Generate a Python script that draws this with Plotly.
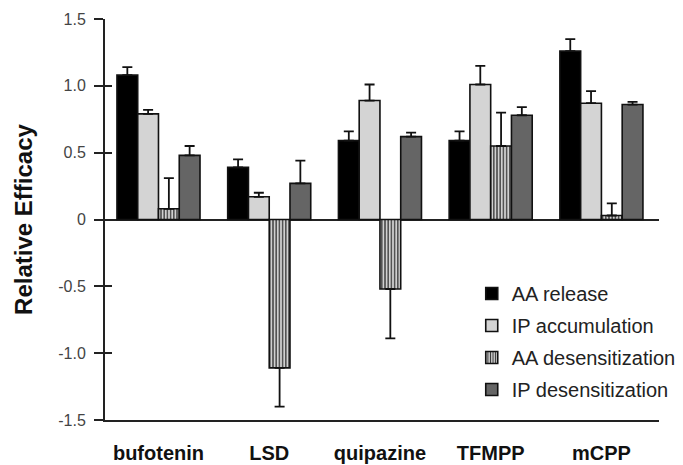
import plotly.graph_objects as go

categories = ["bufotenin", "LSD", "quipazine", "TFMPP", "mCPP"]
series_names = ["AA release", "IP accumulation", "AA desensitization", "IP desensitization"]

aa_release = [1.08, 0.39, 0.59, 0.59, 1.26]
aa_release_err = [0.06, 0.06, 0.07, 0.07, 0.09]

ip_accum = [0.79, 0.17, 0.89, 1.01, 0.87]
ip_accum_err = [0.03, 0.03, 0.12, 0.14, 0.09]

aa_desens = [0.08, -1.11, -0.52, 0.55, 0.03]
aa_desens_err = [0.23, 0.29, 0.37, 0.25, 0.09]

ip_desens = [0.48, 0.27, 0.62, 0.78, 0.86]
ip_desens_err = [0.07, 0.17, 0.03, 0.06, 0.02]

y_ticks = [-1.5, -1.0, -0.5, 0, 0.5, 1.0, 1.5]
y_tick_text = ["-1.5", "-1.0", "-0.5", "0", "0.5", "1.0", "1.5"]

fig = go.Figure()

def err(values, errs):
    up = [e if v >= 0 else 0 for v, e in zip(values, errs)]
    down = [e if v < 0 else 0 for v, e in zip(values, errs)]
    return dict(type="data", symmetric=False, array=up, arrayminus=down,
                color="#111", thickness=1.8, width=5)

styles = [
    dict(color="#000000"),
    dict(color="#d4d4d4"),
    dict(color="#bdbdbd", pattern=dict(shape="|", bgcolor="#d0d0d0", fgcolor="#333333",
                                       size=3.2, solidity=0.4, fillmode="replace")),
    dict(color="#656565"),
]
data = [(aa_release, aa_release_err), (ip_accum, ip_accum_err),
        (aa_desens, aa_desens_err), (ip_desens, ip_desens_err)]

for i, (name, (vals, errs), st) in enumerate(zip(series_names, data, styles)):
    marker = dict(st)
    marker["line"] = dict(color="#111", width=1.6)
    fig.add_trace(go.Bar(x=categories, y=vals, name=name, marker=marker,
                         legendgroup=f"g{i}", error_y=err(vals, errs)))

# helper trace so the overlaid axis (inner tick marks) is drawn
fig.add_trace(go.Scatter(x=[categories[0]], y=[None], yaxis="y2", mode="markers",
                         showlegend=False, hoverinfo="skip"))

font_main = "Liberation Sans, Arial, Helvetica, sans-serif"

fig.update_layout(
    width=683, height=465,
    margin=dict(l=105, r=24, t=19, b=45, autoexpand=False),
    paper_bgcolor="white", plot_bgcolor="white",
    barmode="group", bargap=0.25, bargroupgap=0,
    font=dict(family=font_main, color="#333"),
    showlegend=True,
    legend=dict(x=0.662, y=0.364, xanchor="left", yanchor="top",
                font=dict(size=20, color="#222", family=font_main),
                bgcolor="rgba(0,0,0,0)", traceorder="grouped", tracegroupgap=3,
                itemwidth=30),
    xaxis=dict(
        range=[-0.483, 4.52], showline=True, linecolor="#222", linewidth=2,
        ticks="", showgrid=False, zeroline=False, ticklabelstandoff=14,
        automargin=False,
        tickfont=dict(family=font_main, size=20, color="#111", weight="bold"),
    ),
    yaxis=dict(
        range=[-1.5, 1.5], tickvals=y_ticks, ticktext=y_tick_text,
        showline=True, linecolor="#222", linewidth=2,
        ticks="outside", ticklen=9, tickwidth=2, tickcolor="#222",
        ticklabelstandoff=5, automargin=False,
        showgrid=False, zeroline=True, zerolinecolor="#222", zerolinewidth=2,
        tickfont=dict(size=16, color="#444"),
        title=dict(text="<b>Relative Efficacy</b>", font=dict(size=24, color="#111"),
                   standoff=19),
    ),
    yaxis2=dict(
        range=[-1.5, 1.5], tickvals=y_ticks, overlaying="y", side="left",
        anchor="x", automargin=False,
        showticklabels=False, ticks="inside", ticklen=7, tickwidth=2, tickcolor="#222",
        showgrid=False, zeroline=False, showline=False,
    ),
)

fig.write_html("out.html", config={"displayModeBar": False},
               post_script="document.body.style.margin='0';document.body.style.overflow='hidden';")
